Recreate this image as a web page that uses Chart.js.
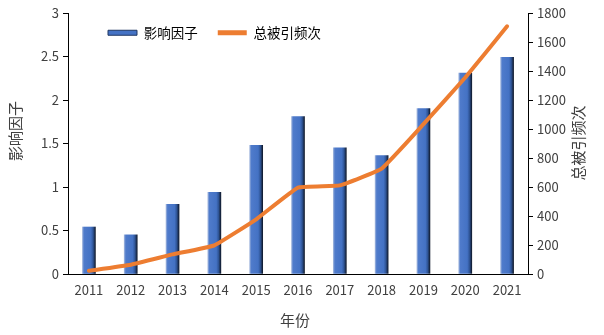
<!DOCTYPE html>
<html>
<head>
<meta charset="utf-8">
<script src="https://cdn.jsdelivr.net/npm/chart.js@4/dist/chart.umd.min.js"></script>
<style>
html,body{margin:0;padding:0;background:#fff;}
#wrap{width:604px;height:335px;position:relative;}
</style>
</head>
<body>
<div id="wrap"><canvas id="c" width="604" height="335"></canvas></div>
<script>
const years = ['2011','2012','2013','2014','2015','2016','2017','2018','2019','2020','2021'];
const impactFactor = [0.54, 0.45, 0.80, 0.94, 1.48, 1.81, 1.45, 1.36, 1.90, 2.31, 2.49];
const totalCitations = [22, 64, 135, 198, 377, 596, 611, 727, 1033, 1355, 1708];
const leftTicks = [0, 0.5, 1, 1.5, 2, 2.5, 3];
const rightTicks = [0, 200, 400, 600, 800, 1000, 1200, 1400, 1600, 1800];
const seriesNames = ['影响因子', '总被引频次'];
const axisTitles = { x: '年份', y: '影响因子', y1: '总被引频次' };

const FONT = '"Noto Sans CJK SC", "Noto Sans", sans-serif';
const TXT = '#404040';

function barGradient(ctx) {
  const chart = ctx.chart;
  const xs = chart.scales.x;
  if (!xs || ctx.dataIndex === undefined) return '#4472C4';
  const cx = xs.getPixelForValue(ctx.dataIndex);
  const w = 13;
  const g = chart.ctx.createLinearGradient(cx - w/2, 0, cx + w/2, 0);
  g.addColorStop(0, '#9db3dc');
  g.addColorStop(0.12, '#4f7bcb');
  g.addColorStop(0.65, '#4472C4');
  g.addColorStop(0.82, '#2f5597');
  g.addColorStop(1, '#111b2e');
  return g;
}

const shiftLegend = {
  id: 'shiftLegend',
  beforeUpdate(chart) {
    const lg = chart.legend;
    if (lg && !lg._forcedH) { lg.isHorizontal = () => true; lg._forcedH = true; }
  },
  afterUpdate(chart) {
    const lg = chart.legend;
    if (!lg) return;
    const dx = 88 - lg.left, dy = -7;
    lg.left += dx; lg.right += dx; lg.top += dy; lg.bottom += dy;
    (lg.legendHitBoxes || []).forEach(h => { h.left += dx; h.top += dy; });
  }
};

const titlesPlugin = {
  id: 'titlesPlugin',
  afterDraw(chart) {
    const c = chart.ctx;
    c.save();
    c.fillStyle = TXT;
    c.font = '15px ' + FONT;
    c.textAlign = 'center';
    c.textBaseline = 'middle';
    c.fillText(axisTitles.x, 295, 320);
    c.save();
    c.translate(15, 131);
    c.rotate(-Math.PI/2);
    c.fillText(axisTitles.y, 0, 0);
    c.restore();
    c.save();
    c.translate(578, 143);
    c.rotate(-Math.PI/2);
    c.fillText(axisTitles.y1, 0, 0);
    c.restore();
    c.restore();
  }
};

const plainTick = v => String(v);

new Chart(document.getElementById('c'), {
  data: {
    labels: years,
    datasets: [
      {
        type: 'line',
        label: seriesNames[1],
        data: totalCitations,
        yAxisID: 'y1',
        borderColor: '#ED7D31',
        backgroundColor: '#ED7D31',
        borderWidth: 4,
        pointRadius: 0,
        tension: 0.1,
        borderCapStyle: 'round',
        borderJoinStyle: 'round',
        order: 0
      },
      {
        type: 'bar',
        label: seriesNames[0],
        data: impactFactor,
        yAxisID: 'y',
        backgroundColor: barGradient,
        borderWidth: 0,
        barThickness: 13,
        order: 1
      }
    ]
  },
  options: {
    responsive: false,
    animation: false,
    devicePixelRatio: 1,
    layout: { padding: { top: 13, left: 0, right: 0, bottom: 0 } },
    plugins: {
      tooltip: { enabled: false },
      legend: {
        position: 'chartArea',
        align: 'start',
        labels: {
          boxWidth: 29,
          boxHeight: 5,
          padding: 20,
          color: TXT,
          font: { family: FONT, size: 13.5 },
          generateLabels(chart) {
            return [
              { text: seriesNames[0], fillStyle: '#4472C4', strokeStyle: '#1f3763', lineWidth: 1, datasetIndex: 1, hidden: false },
              { text: seriesNames[1], fillStyle: '#ED7D31', strokeStyle: '#ED7D31', lineWidth: 0, datasetIndex: 0, hidden: false }
            ];
          }
        }
      }
    },
    scales: {
      x: {
        type: 'category',
        offset: true,
        grid: { display: false, drawTicks: false },
        border: { display: true, color: '#000', width: 1 },
        ticks: { color: TXT, font: { family: FONT, size: 13 }, padding: 8, maxRotation: 0, autoSkip: false },
        afterFit(s) { s.height = 61; }
      },
      y: {
        type: 'linear',
        position: 'left',
        min: 0, max: 3,
        afterBuildTicks(s) { s.ticks = leftTicks.map(v => ({ value: v })); },
        grid: { drawOnChartArea: false, drawTicks: true, tickLength: 5, color: '#000' },
        border: { display: true, color: '#000', width: 1 },
        ticks: { color: TXT, font: { family: FONT, size: 13 }, padding: 4, callback: plainTick },
        afterFit(s) { s.width = 68; }
      },
      y1: {
        type: 'linear',
        position: 'right',
        min: 0, max: 1800,
        afterBuildTicks(s) { s.ticks = rightTicks.map(v => ({ value: v })); },
        grid: { drawOnChartArea: false, drawTicks: true, tickLength: 5, color: '#000' },
        border: { display: true, color: '#000', width: 1 },
        ticks: { color: TXT, font: { family: FONT, size: 13 }, padding: 4, callback: plainTick },
        afterFit(s) { s.width = 76; }
      }
    }
  },
  plugins: [shiftLegend, titlesPlugin]
});
</script>
</body>
</html>
